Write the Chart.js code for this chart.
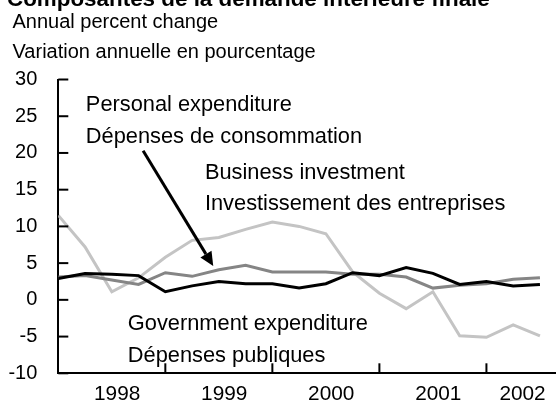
<!DOCTYPE html>
<html><head><meta charset="utf-8">
<script src="https://cdn.jsdelivr.net/npm/chart.js@4/dist/chart.umd.min.js"></script>
<style>html,body{margin:0;padding:0;background:#fff;overflow:hidden}</style>
</head><body>
<canvas id="c" width="556" height="409"></canvas>
<script>
// ---- data ----
const quarters = ['1998Q1','1998Q2','1998Q3','1998Q4','1999Q1','1999Q2','1999Q3','1999Q4',
  '2000Q1','2000Q2','2000Q3','2000Q4','2001Q1','2001Q2','2001Q3','2001Q4','2002Q1','2002Q2','2002Q3'];
const personal   = [2.9, 3.6, 3.5, 3.3, 1.1, 1.9, 2.5, 2.2, 2.2, 1.6, 2.2, 3.7, 3.3, 4.4, 3.6, 2.1, 2.5, 1.9, 2.1];
const government = [3.1, 3.3, 2.7, 2.1, 3.7, 3.2, 4.1, 4.7, 3.8, 3.8, 3.8, 3.5, 3.5, 3.1, 1.6, 2.0, 2.2, 2.8, 3.0];
const business   = [11.5, 7.2, 1.1, 3.0, 5.8, 8.1, 8.5, 9.6, 10.6, 10.0, 9.0, 3.8, 0.9, -1.2, 1.1, -4.9, -5.1, -3.4, -4.9];
const yearLabels = ['1998','1999','2000','2001','2002'];
const yTicks = [-10, -5, 0, 5, 10, 15, 20, 25, 30];

// ---- text ----
const titleText = 'Composantes de la demande intérieure finale';
const subtitleLines = ['Annual percent change', 'Variation annuelle en pourcentage'];

// ---- layout helpers (positions in axis units) ----
const yearLabelPos = [2.2, 6.2, 10.2, 14.2, 17.35];
const yearBoundaries = [4, 8, 12, 16];
const notes = [
  {text:'Personal expenditure', x:1.03, y:25.7},
  {text:'Dépenses de consommation', x:1.03, y:21.3},
  {text:'Business investment', x:5.48, y:16.5},
  {text:'Investissement des entreprises', x:5.48, y:12.2},
  {text:'Government expenditure', x:2.6, y:-4.15},
  {text:'Dépenses publiques', x:2.6, y:-8.46}
];
const arrow = {from:[3.17, 20.3], to:[5.79, 4.6]};

const FAMILY = '"Liberation Sans", Arial, Helvetica, sans-serif';
const pts = arr => arr.map((v, i) => ({x: i, y: v}));

const decor = {
  id: 'decor',
  afterDraw(chart) {
    const c = chart.ctx, xs = chart.scales.x, ys = chart.scales.y, a = chart.chartArea;
    c.save();
    c.strokeStyle = '#000'; c.fillStyle = '#000'; c.lineWidth = 2;
    // inner tick marks
    yTicks.forEach(v => {
      const py = ys.getPixelForValue(v);
      c.beginPath(); c.moveTo(a.left, py); c.lineTo(a.left + 10, py); c.stroke();
    });
    yearBoundaries.forEach(v => {
      const px = xs.getPixelForValue(v);
      c.beginPath(); c.moveTo(px, a.bottom); c.lineTo(px, a.bottom - 10); c.stroke();
    });
    // header
    c.textAlign = 'left'; c.textBaseline = 'alphabetic';
    c.font = 'bold 22.4px ' + FAMILY;
    c.fillText(titleText, 7, 5.5);
    c.font = '20px ' + FAMILY;
    c.fillText(subtitleLines[0], 12.5, 28.3);
    c.fillText(subtitleLines[1], 12.5, 58.3);
    // annotations
    c.font = '21.8px ' + FAMILY;
    notes.forEach(n => c.fillText(n.text, xs.getPixelForValue(n.x), ys.getPixelForValue(n.y)));
    // arrow
    const x1 = xs.getPixelForValue(arrow.from[0]), y1 = ys.getPixelForValue(arrow.from[1]);
    const x2 = xs.getPixelForValue(arrow.to[0]), y2 = ys.getPixelForValue(arrow.to[1]);
    const ang = Math.atan2(y2 - y1, x2 - x1), L = 14, W = 6.5;
    const bx = x2 - L * Math.cos(ang), by = y2 - L * Math.sin(ang);
    c.lineWidth = 3;
    c.beginPath(); c.moveTo(x1, y1); c.lineTo(bx, by); c.stroke();
    c.beginPath();
    c.moveTo(x2, y2);
    c.lineTo(bx + W * Math.sin(ang), by - W * Math.cos(ang));
    c.lineTo(bx - W * Math.sin(ang), by + W * Math.cos(ang));
    c.closePath(); c.fill();
    c.restore();
  }
};

new Chart(document.getElementById('c'), {
  type: 'line',
  data: {
    datasets: [
      {label: 'Personal expenditure', data: pts(personal), borderColor: '#000000', borderWidth: 3, pointRadius: 0, order: 1, tension: 0},
      {label: 'Government expenditure', data: pts(government), borderColor: '#858585', borderWidth: 3, pointRadius: 0, order: 2, tension: 0},
      {label: 'Business investment', data: pts(business), borderColor: '#c4c4c4', borderWidth: 3, pointRadius: 0, order: 3, tension: 0}
    ]
  },
  options: {
    responsive: false,
    animation: false,
    layout: {padding: {top: 79.5, left: 8, right: 0, bottom: 4}},
    plugins: {legend: {display: false}, tooltip: {enabled: false}, title: {display: false}},
    scales: {
      x: {
        type: 'linear', min: 0, max: 18.6,
        grid: {display: false, drawTicks: false},
        border: {display: true, color: '#000', width: 2},
        afterBuildTicks: s => { s.ticks = yearLabelPos.map(v => ({value: v})); },
        afterFit: s => { s.height = 31.7; },
        ticks: {autoSkip: false, maxRotation: 0, padding: 8, color: '#000',
          font: {family: FAMILY, size: 20.8},
          callback: v => yearLabels[yearLabelPos.indexOf(v)]}
      },
      y: {
        min: -10, max: 30,
        grid: {display: false, drawTicks: false},
        border: {display: true, color: '#000', width: 2},
        afterBuildTicks: s => { s.ticks = yTicks.map(v => ({value: v})); },
        afterFit: s => { s.width = 50.3; },
        ticks: {padding: 21, color: '#000', font: {family: FAMILY, size: 20}}
      }
    }
  },
  plugins: [decor]
});
</script>
</body></html>
